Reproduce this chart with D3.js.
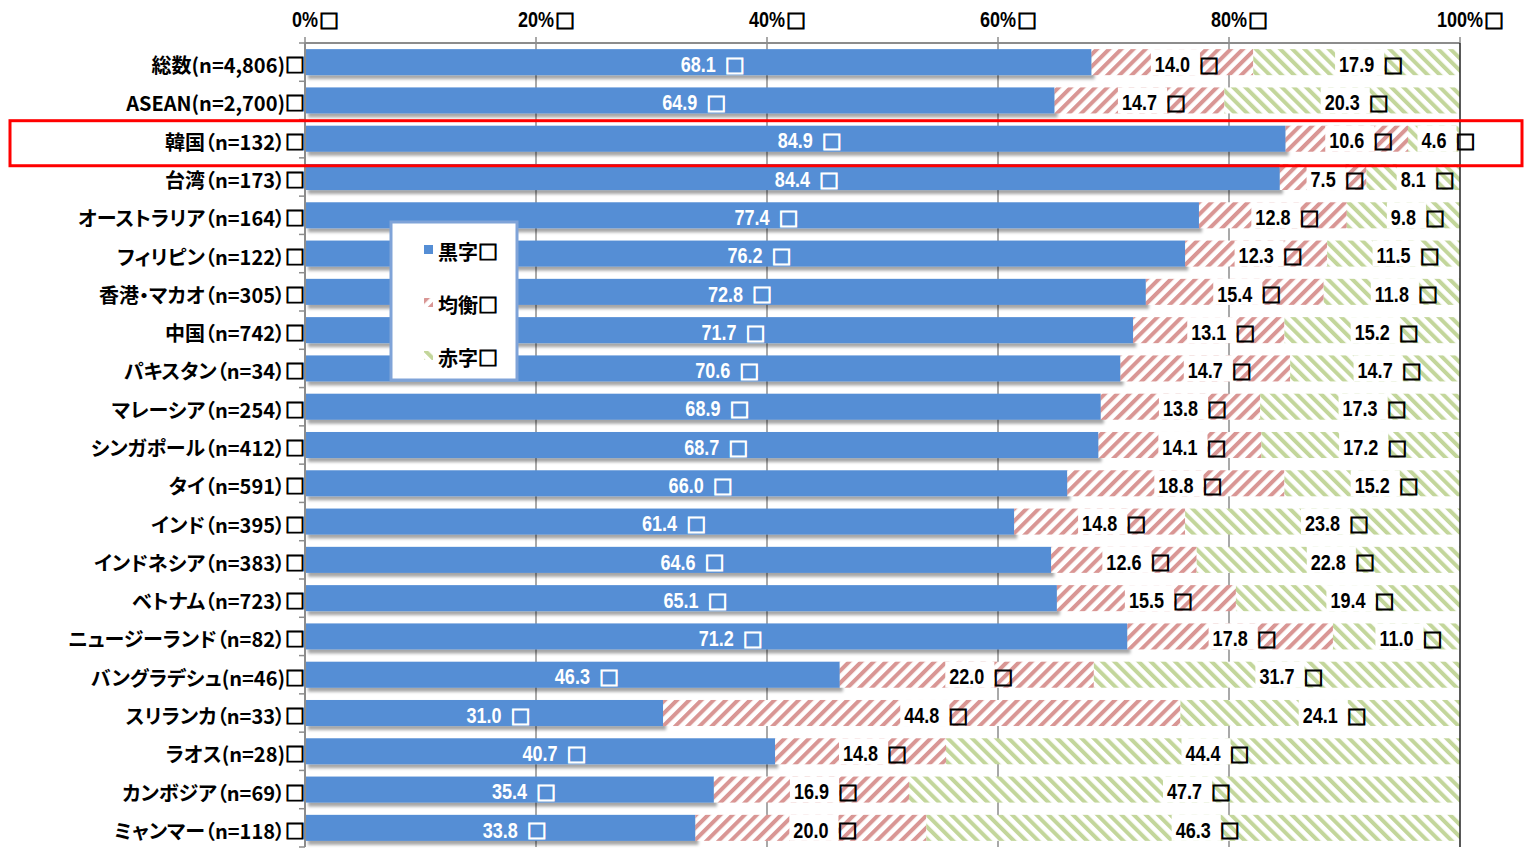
<!DOCTYPE html>
<html>
<head>
<meta charset="utf-8">
<script src="https://cdn.jsdelivr.net/npm/d3@7"></script>
<style>
  body { margin: 0; background: #fff; }
  svg { display: block; }
  .num { font-family: "Liberation Sans", Arial, sans-serif; font-weight: bold; font-size: 22px; }
  .box { font-family: "Noto Sans CJK JP", sans-serif; font-weight: 900; font-size: 20px; stroke-width: 1; }
  .cat { font-family: "Noto Sans CJK JP", sans-serif; font-weight: bold; font-size: 20px; font-feature-settings: "palt"; }
</style>
</head>
<body>
<div id="chart"></div>
<script>
var categories = [
  "総数(n=4,806)", "ASEAN(n=2,700)", "韓国（n=132）", "台湾（n=173）",
  "オーストラリア（n=164）", "フィリピン（n=122）", "香港・マカオ（n=305）",
  "中国（n=742）", "パキスタン（n=34）", "マレーシア（n=254）",
  "シンガポール（n=412）", "タイ（n=591）", "インド（n=395）",
  "インドネシア（n=383）", "ベトナム（n=723）", "ニュージーランド（n=82）",
  "バングラデシュ(n=46)", "スリランカ（n=33）", "ラオス(n=28)",
  "カンボジア（n=69）", "ミャンマー（n=118）"
];
var kuroji = [68.1, 64.9, 84.9, 84.4, 77.4, 76.2, 72.8, 71.7, 70.6, 68.9, 68.7, 66.0, 61.4, 64.6, 65.1, 71.2, 46.3, 31.0, 40.7, 35.4, 33.8];
var kinko  = [14.0, 14.7, 10.6, 7.5, 12.8, 12.3, 15.4, 13.1, 14.7, 13.8, 14.1, 18.8, 14.8, 12.6, 15.5, 17.8, 22.0, 44.8, 14.8, 16.9, 20.0];
var akaji  = [17.9, 20.3, 4.6, 8.1, 9.8, 11.5, 11.8, 15.2, 14.7, 17.3, 17.2, 15.2, 23.8, 22.8, 19.4, 11.0, 31.7, 24.1, 44.4, 47.7, 46.3];
var seriesNames = ["黒字", "均衡", "赤字"];
var xTicks = [0, 20, 40, 60, 80, 100];
var highlight = "韓国（n=132）";

var W = 1528, H = 858;
var SX = 0.82; // narrow numerals
var svg = d3.select("#chart").append("svg").attr("width", W).attr("height", H);
var defs = svg.append("defs");

function stripe(id, color, angle) {
  var p = defs.append("pattern").attr("id", id)
    .attr("patternUnits", "userSpaceOnUse")
    .attr("width", 8.6).attr("height", 8.6)
    .attr("patternTransform", "rotate(" + angle + ")");
  p.append("rect").attr("width", 8.6).attr("height", 8.6).attr("fill", "#fff");
  p.append("rect").attr("width", 4).attr("height", 8.6).attr("fill", color);
}
stripe("redHatch", "#D99694", 45);
stripe("greenHatch", "#C3D69B", -45);

var f = defs.append("filter").attr("id", "shadow")
  .attr("x", "-5%").attr("y", "-30%").attr("width", "110%").attr("height", "180%");
f.append("feDropShadow").attr("dx", 3).attr("dy", 4).attr("stdDeviation", 1.6)
  .attr("flood-color", "#000").attr("flood-opacity", 0.35);

var x = d3.scaleLinear().domain([0, 100]).range([305, 1460]);
var y = d3.scaleBand().domain(categories).range([43, 847])
  .paddingInner(0.32).paddingOuter(0.16);
var bh = y.bandwidth();

// gridlines
svg.append("g").selectAll("line").data(xTicks.slice(1, -1)).join("line")
  .attr("x1", d => x(d)).attr("x2", d => x(d))
  .attr("y1", 43).attr("y2", 847)
  .attr("stroke", "#8c8c8c").attr("stroke-width", 1.5);

var rows = categories.map(function (c, i) {
  return { cat: c, k: kuroji[i], e: kinko[i], a: akaji[i] };
});

// blue bars with shadow
svg.append("g").selectAll("rect").data(rows).join("rect")
  .attr("x", x(0)).attr("y", d => y(d.cat))
  .attr("width", d => x(d.k) - x(0)).attr("height", bh)
  .attr("fill", "#558ED5").attr("filter", "url(#shadow)");

svg.append("g").selectAll("rect").data(rows).join("rect")
  .attr("x", d => x(d.k)).attr("y", d => y(d.cat))
  .attr("width", d => x(d.k + d.e) - x(d.k)).attr("height", bh)
  .attr("fill", "url(#redHatch)");

svg.append("g").selectAll("rect").data(rows).join("rect")
  .attr("x", d => x(d.k + d.e)).attr("y", d => y(d.cat))
  .attr("width", d => x(100) - x(d.k + d.e)).attr("height", bh)
  .attr("fill", "url(#greenHatch)");

// axes
svg.append("line").attr("x1", x(0)).attr("x2", x(100)).attr("y1", 43).attr("y2", 43)
  .attr("stroke", "#8c8c8c").attr("stroke-width", 2);
svg.append("line").attr("x1", x(0)).attr("x2", x(0)).attr("y1", 43).attr("y2", 847)
  .attr("stroke", "#8c8c8c").attr("stroke-width", 2);
svg.append("line").attr("x1", x(100)).attr("x2", x(100)).attr("y1", 43).attr("y2", 847)
  .attr("stroke", "#222").attr("stroke-width", 1.5);
svg.append("g").selectAll("line").data(xTicks).join("line")
  .attr("x1", d => x(d)).attr("x2", d => x(d)).attr("y1", 37).attr("y2", 43)
  .attr("stroke", "#8c8c8c").attr("stroke-width", 1.5);
var bounds = categories.map(c => y(c) - y.step() * 0.16).concat([847]);
svg.append("g").selectAll("line").data(bounds).join("line")
  .attr("x1", x(0) - 6).attr("x2", x(0)).attr("y1", d => d).attr("y2", d => d)
  .attr("stroke", "#8c8c8c").attr("stroke-width", 1.5);

// label helper: number centred at cx, box after it
function label(g, cx, cy, txt, color, bg, top, gap) {
  var bgRect = bg ? g.append("rect").attr("fill", "#fff") : null;
  var t = g.append("text").attr("class", "num")
    .attr("transform", "translate(" + cx + "," + cy + ") scale(" + SX + ",1)")
    .attr("text-anchor", "middle").attr("dominant-baseline", "central")
    .attr("fill", color).text(txt);
  var w = t.node().getComputedTextLength() * SX;
  if (bgRect) {
    bgRect.attr("x", cx - w / 2 - 4).attr("y", top).attr("width", w + 14).attr("height", bh);
  }
  g.append("text").attr("class", "box").attr("x", cx + w / 2 + gap).attr("y", cy + 1)
    .attr("dominant-baseline", "central").attr("fill", color).attr("stroke", color).text("□");
}

// axis labels
var axG = svg.append("g");
xTicks.forEach(function (d) { label(axG, x(d), 19, d + "%", "#000", false, 0, 1); });

// category labels
var catT = svg.append("g").selectAll("text").data(categories).join("text")
  .attr("class", "cat").attr("x", x(0)).attr("y", d => y(d) + bh / 2 + 2)
  .attr("text-anchor", "end").attr("dominant-baseline", "central")
  .attr("fill", "#000");
catT.append("tspan").text(d => d);
catT.append("tspan").attr("stroke", "#000").attr("stroke-width", 1).text("□");

// data labels
var lg = svg.append("g");
rows.forEach(function (d) {
  var cy = y(d.cat) + bh / 2 + 2, top = y(d.cat);
  label(lg, (x(0) + x(d.k)) / 2, cy, d.k.toFixed(1), "#fff", false, top, 9);
  label(lg, (x(d.k) + x(d.k + d.e)) / 2, cy, d.e.toFixed(1), "#000", true, top, 9);
  label(lg, (x(d.k + d.e) + x(100)) / 2, cy, d.a.toFixed(1), "#000", true, top, 9);
});

// highlight frame
svg.append("rect").attr("x", 10).attr("y", y(highlight) - 5)
  .attr("width", 1512).attr("height", bh + 19)
  .attr("fill", "none").attr("stroke", "#FF0000").attr("stroke-width", 3);

// legend
var leg = svg.append("g").attr("transform", "translate(391,222)");
leg.append("rect").attr("width", 126).attr("height", 158)
  .attr("fill", "#fff").attr("stroke", "#7FA3D8").attr("stroke-width", 3);
var fills = ["#558ED5", "url(#redHatch)", "url(#greenHatch)"];
seriesNames.forEach(function (s, i) {
  var cy = 28 + i * 53;
  leg.append("rect").attr("x", 33).attr("y", cy - 5).attr("width", 9).attr("height", 9)
    .attr("fill", fills[i]);
  var lt = leg.append("text").attr("class", "cat").attr("x", 47).attr("y", cy + 1)
    .attr("dominant-baseline", "central").attr("fill", "#000");
  lt.append("tspan").text(s);
  lt.append("tspan").attr("stroke", "#000").attr("stroke-width", 1).text("□");
});
</script>
</body>
</html>
